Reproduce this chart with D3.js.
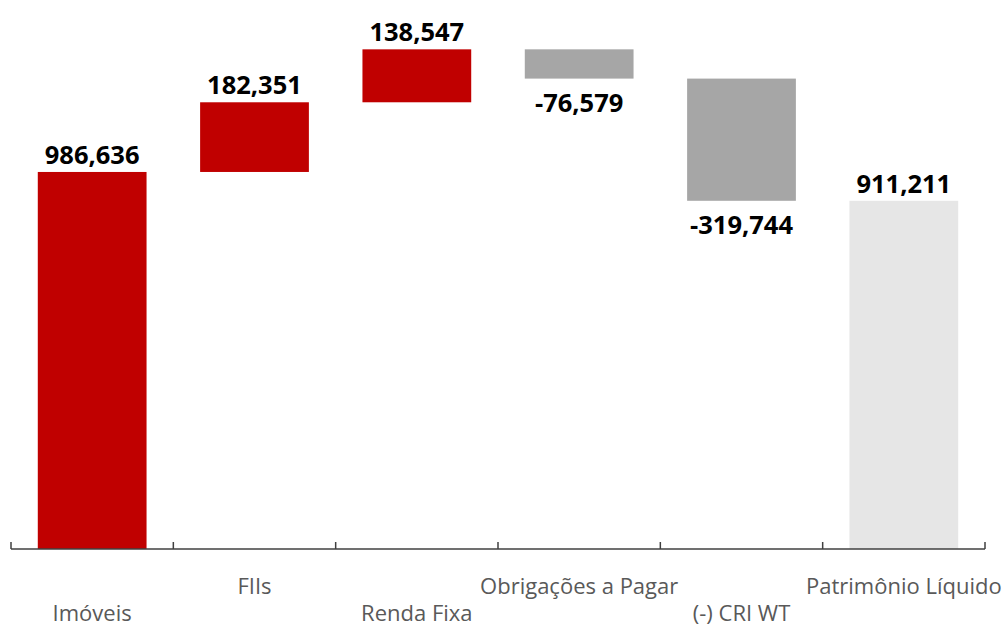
<!DOCTYPE html>
<html><head><meta charset="utf-8">
<script src="https://cdn.jsdelivr.net/npm/d3@7"></script>
<style>body{margin:0;background:#fff}svg{display:block}</style>
</head><body><svg id="c" width="1008" height="628"></svg>
<script>
const categories = ["Imóveis","FIIs","Renda Fixa","Obrigações a Pagar","(-) CRI WT","Patrimônio Líquido"];
const values = [986636, 182351, 138547, -76579, -319744, 911211];
const kinds = ["total","up","up","down","down","final"];
const valueLabels = ["986,636","182,351","138,547","-76,579","-319,744","911,211"];
const colors = {total:"#C00000", up:"#C00000", down:"#A6A6A6", final:"#E6E6E6"};

const svg = d3.select("#c");
const x = d3.scaleBand().domain(categories).range([11, 985]).paddingInner(0.33).paddingOuter(0.165);
const y = d3.scaleLinear().domain([0, 1400000]).range([549, 14]);

let run = 0;
const data = categories.map((c,i)=>{
  let y0, y1;
  if (kinds[i]==="total"||kinds[i]==="final"){ y0=0; y1=values[i]; run=values[i]; }
  else { y0=run; y1=run+values[i]; run=y1; }
  return {c, v:values[i], k:kinds[i], lo:Math.min(y0,y1), hi:Math.max(y0,y1), label:valueLabels[i], i};
});

svg.selectAll("rect.bar").data(data).join("rect")
  .attr("x", d=>x(d.c)).attr("width", x.bandwidth())
  .attr("y", d=>y(d.hi)).attr("height", d=>y(d.lo)-y(d.hi))
  .attr("fill", d=>colors[d.k]);

svg.selectAll("text.val").data(data).join("text")
  .attr("x", d=>x(d.c)+x.bandwidth()/2)
  .attr("y", d=> d.v<0 ? y(d.lo)+33 : y(d.hi)-8)
  .attr("text-anchor","middle")
  .attr("font-family","'Open Sans', 'Noto Sans', sans-serif")
  .attr("font-weight","bold").attr("font-size",25.5).attr("fill","#000")
  .text(d=>d.label);

// axis
const step = x.step();
const g = svg.append("g");
g.append("line").attr("x1",11).attr("x2",985).attr("y1",549).attr("y2",549)
  .attr("stroke","#404040").attr("stroke-width",1.5);
const ticks = d3.range(categories.length+1).map(i=> i<categories.length ? x(categories[i]) - x.paddingInner()*step/2 : x(categories[i-1]) + x.bandwidth() + x.paddingInner()*step/2);
g.selectAll("line.t").data(ticks).join("line")
  .attr("x1",d=>d).attr("x2",d=>d).attr("y1",542).attr("y2",549)
  .attr("stroke","#404040").attr("stroke-width",1.5);

svg.selectAll("text.cat").data(data).join("text")
  .attr("x", d=>x(d.c)+x.bandwidth()/2)
  .attr("y", d=> d.i%2===0 ? 621 : 594)
  .attr("text-anchor","middle")
  .attr("font-family","'Open Sans', 'Noto Sans', sans-serif")
  .attr("font-size",22).attr("fill","#595959")
  .text(d=>d.c);
</script></body></html>
